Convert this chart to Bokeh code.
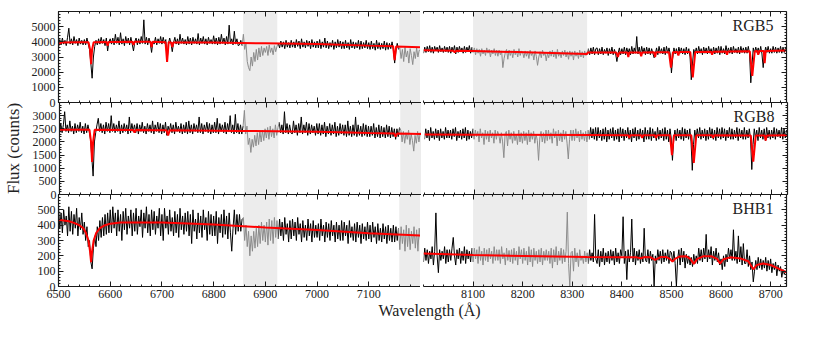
import numpy as np
from bokeh.plotting import figure
from bokeh.layouts import row, column
from bokeh.models import Range1d, LinearAxis, FixedTicker, BoxAnnotation, Label, CustomJSTickFormatter
from bokeh.embed import file_html
from bokeh.resources import INLINE

# ------------------------------------------------------------------ data
star_names = ["RGB5", "RGB8", "BHB1"]
telluric_bands = [(6857, 6923), (7159, 7200), (8100, 8330)]

x_ranges = [(6500, 7200), (8000, 8732)]
y_ranges = [(0, 6000), (0, 3500), (0, 600)]
y_major = [[0, 1000, 2000, 3000, 4000, 5000],
           [0, 500, 1000, 1500, 2000, 2500, 3000],
           [0, 100, 200, 300, 400, 500]]
y_minor_step = [200, 100, 20]
x_major = [[6500, 6600, 6700, 6800, 6900, 7000, 7100],
           [8100, 8200, 8300, 8400, 8500, 8600, 8700]]
x_minor_step = 20

left_start = 6500     # spectra sampled every 2.5 A, one row per 50 A block
right_start = 8000

# RGB5 observed flux (counts)
rgb5_left_blocks = [
    [3650, 4150, 3800, 4250, 3850, 4100, 3750, 4300, 4900, 3850, 4200, 3800, 4350, 3900, 4150, 3750, 4250, 3850, 4100, 3800],
    [4150, 3800, 4250, 3850, 3500, 2600, 1600, 3000, 3700, 4100, 3800, 4200, 3850, 4300, 3900, 4150, 3750, 4250, 3400, 4000],
    [4200, 3850, 4250, 3800, 4500, 3900, 4300, 3800, 4600, 3850, 4200, 3750, 4350, 3900, 4250, 3800, 4300, 3850, 3400, 4000],
    [4250, 3800, 4200, 3850, 4350, 3900, 5450, 3850, 4300, 3800, 4250, 3900, 3300, 4000, 3850, 4300, 3800, 4200, 3900, 4350],
    [3850, 4300, 3900, 4150, 2700, 3850, 4250, 3900, 3350, 3950, 4300, 3850, 4200, 3800, 4500, 3900, 4250, 3850, 4150, 3800],
    [4350, 3850, 4250, 3800, 4300, 3900, 4200, 3850, 4550, 3800, 4250, 3900, 4350, 3850, 4200, 3800, 4300, 3900, 4150, 3850],
    [4400, 3850, 4250, 3800, 4300, 3850, 4500, 3900, 4250, 3800, 4350, 3850, 5100, 3900, 4200, 3800, 4700, 3850, 4200, 3750],
    [3800, 4100, 3750, 4500, 3500, 3900, 2700, 2300, 2100, 3000, 2400, 3300, 2700, 3500, 2800, 3600, 3000, 3700, 3100, 3600],
    [3300, 3700, 3100, 3800, 3300, 3600, 3150, 3750, 3350, 3700, 3900, 3600, 4050, 3650, 4000, 3550, 4100, 3650, 3950, 3600],
    [4100, 3650, 4000, 3600, 4150, 3700, 4050, 3550, 4200, 3650, 4000, 3600, 4100, 3700, 4050, 3550, 4150, 3650, 4000, 3600],
    [4050, 3600, 4150, 3550, 4000, 3650, 4250, 3600, 4050, 3550, 3950, 3650, 4100, 3500, 4000, 3600, 4150, 3650, 4050, 3550],
    [4000, 3550, 4100, 3600, 3950, 3500, 4150, 3600, 4000, 3550, 3950, 3600, 4100, 3500, 4050, 3550, 3950, 3600, 4100, 3550],
    [3950, 3500, 4050, 3550, 3900, 3450, 4100, 3550, 3950, 3500, 3900, 3550, 4050, 3450, 3950, 3500, 3900, 3550, 4000, 3500],
    [2600, 3400, 3900, 3500, 3600, 2900, 3500, 2700, 3650, 3000, 3400, 2600, 3550, 3100, 2500, 3350, 2900, 3600, 3000, 3450],
    [3450],
]
rgb5_right_blocks = [
    [3250, 3650, 3300, 3700, 3350, 3750, 3300, 3650, 3250, 3700, 3400, 3650, 3300, 3750, 3350, 3600, 3300, 3700, 3350, 3650],
    [3300, 3700, 3250, 3650, 3350, 3750, 3200, 3650, 3300, 3700, 3350, 3600, 3250, 3700, 3300, 3650, 3350, 3750, 3250, 3650],
    [3300, 3600, 3150, 3550, 3250, 3500, 3050, 3550, 3200, 3450, 3100, 3600, 3250, 3500, 3000, 3450, 3200, 3550, 3100, 3450],
    [3050, 3450, 3150, 3400, 2300, 2900, 3300, 3500, 2850, 3450, 3100, 3400, 2950, 3500, 3150, 3400, 3000, 3550, 3100, 3400],
    [3300, 2950, 3400, 3050, 3350, 2900, 3450, 3100, 3300, 2800, 3400, 3050, 2450, 3000, 3350, 2950, 3450, 3100, 3300, 2750],
    [3250, 2950, 3400, 3050, 3450, 3000, 3350, 2900, 3500, 3050, 3300, 2950, 3400, 3100, 3450, 3000, 3350, 2850, 3400, 3050],
    [3350, 2800, 3400, 3050, 3300, 2900, 3450, 3000, 3350, 2950, 3400, 3100, 3300, 3550, 3150, 3600, 3200, 3650, 3150, 3550],
    [3600, 3150, 3550, 3200, 3650, 3150, 3500, 3250, 3600, 3100, 3550, 3200, 3650, 3150, 3500, 3200, 2700, 3250, 3600, 3150],
    [3550, 3200, 3650, 3150, 3600, 3250, 3550, 3150, 3700, 3200, 3600, 3250, 4350, 3200, 3650, 3150, 3700, 3250, 3600, 3150],
    [3650, 3200, 3600, 3150, 3550, 3250, 2950, 3200, 3600, 3150, 3700, 3250, 3550, 3200, 3650, 3150, 3700, 3250, 3600, 3200],
    [1950, 2900, 3600, 3200, 3550, 3150, 3650, 3250, 3600, 3200, 3550, 3150, 3650, 3200, 3550, 3000, 1500, 2600, 3500, 3200],
    [3600, 3200, 3700, 3250, 3550, 3150, 3650, 3250, 3600, 3200, 3700, 3250, 3550, 3150, 3650, 3200, 3600, 3250, 3700, 3150],
    [3700, 3250, 3550, 3200, 3750, 3300, 3600, 3250, 3650, 3200, 3700, 3300, 3550, 3250, 3650, 3200, 3700, 3300, 3600, 3250],
    [3650, 3250, 3700, 3200, 1300, 2500, 3600, 3250, 3650, 3300, 3600, 3250, 3700, 3200, 2300, 3250, 3650, 3300, 3700, 3250],
    [3550, 3250, 3700, 3300, 3650, 3250, 3600, 3300, 3700, 3250, 3650, 3300, 3600],
]
rgb5_left_model_wave = [6500, 6505, 6540, 6558, 6561, 6563, 6565, 6568, 6593, 6595, 6597,
                        6643, 6645, 6647, 6678, 6680, 6682, 6707, 6710, 6713, 6718, 6720,
                        6722, 6800, 6900, 7000, 7100, 7147, 7150, 7153, 7200]
rgb5_left_model_flux = [3800, 3950, 3980, 3980, 3500, 2530, 3500, 3980, 3990, 3750, 3990,
                        4000, 3800, 4000, 4000, 3650, 4000, 3980, 2680, 3980, 3960, 3650,
                        3960, 3950, 3900, 3850, 3750, 3710, 2800, 3700, 3640]
rgb5_right_model_wave = [8000, 8060, 8063, 8066, 8100, 8330, 8331, 8389, 8392, 8395, 8411,
                         8413, 8415, 8437, 8439, 8441, 8465, 8467, 8469, 8495, 8499, 8503,
                         8512, 8514, 8516, 8538, 8543, 8548, 8580, 8582, 8584, 8610, 8612,
                         8614, 8658, 8663, 8668, 8673, 8675, 8677, 8686, 8688, 8690, 8732]
rgb5_right_model_flux = [3450, 3420, 3300, 3420, 3400, 3200, 3290, 3300, 3000, 3300, 3300,
                         3000, 3300, 3300, 3050, 3300, 3310, 3000, 3310, 3320, 2300, 3320,
                         3330, 3100, 3330, 3330, 1650, 3330, 3350, 3150, 3350, 3360, 3150,
                         3360, 3380, 1750, 3380, 3390, 3150, 3390, 3400, 2600, 3400, 3430]

# RGB8 observed flux (counts)
rgb8_left_blocks = [
    [2300, 2700, 2350, 2650, 3150, 2400, 2650, 2350, 2800, 2400, 2600, 2300, 2700, 2350, 2650, 2400, 2750, 2350, 2600, 2300],
    [2700, 2350, 2650, 2400, 2100, 1400, 700, 2000, 2350, 2650, 2900, 2400, 2700, 2350, 2650, 2300, 2750, 2400, 2700, 2350],
    [3000, 2400, 2700, 2350, 2650, 2400, 2800, 2300, 2650, 2350, 2700, 2400, 2650, 2300, 2950, 2350, 2700, 2400, 2650, 2350],
    [2700, 2300, 2650, 2400, 2750, 2350, 2600, 2300, 2700, 2400, 2650, 2350, 2800, 2300, 2650, 2400, 2750, 2350, 2700, 2300],
    [2650, 2350, 2750, 2250, 2600, 2400, 2700, 2350, 2650, 2300, 2750, 2400, 2600, 2350, 2700, 2300, 2650, 2350, 2750, 2300],
    [2800, 2350, 2650, 2300, 2700, 2400, 2650, 2350, 2950, 2350, 2700, 2300, 2650, 2400, 2750, 2350, 2700, 2300, 2650, 2350],
    [2750, 2350, 2900, 2300, 2700, 2400, 2650, 2350, 2750, 2300, 2700, 2400, 3000, 2350, 2650, 2300, 3050, 2350, 2700, 2300],
    [2650, 2300, 2600, 3200, 2300, 2600, 1900, 2150, 1600, 2100, 1800, 2250, 1850, 2350, 1900, 2400, 2000, 2450, 2050, 2500],
    [2150, 2550, 2100, 2600, 2200, 2500, 2150, 2650, 2250, 2550, 2750, 2350, 2650, 2300, 3150, 2350, 2700, 2300, 2650, 2350],
    [2300, 2800, 2350, 2650, 2250, 2700, 2350, 2950, 2300, 2650, 2350, 2750, 2250, 2700, 2300, 2650, 2350, 2600, 2250, 2700],
    [2300, 2700, 2250, 2650, 2300, 2750, 2200, 2600, 2300, 2700, 2250, 2650, 2300, 2750, 2200, 2600, 2250, 2700, 2300, 2650],
    [2250, 2650, 2200, 2800, 2250, 2600, 2200, 2650, 2250, 2950, 2200, 2650, 2250, 2600, 2200, 2700, 2250, 2650, 2200, 2600],
    [2200, 2600, 2250, 2700, 2150, 2550, 2200, 2650, 2150, 2600, 2200, 2550, 2150, 2650, 2200, 2600, 2150, 2550, 2200, 2500],
    [2100, 2500, 2200, 2550, 2450, 2000, 2400, 1950, 2350, 2100, 2450, 1900, 2300, 2050, 1650, 2250, 1950, 2400, 2000, 2350],
    [2250],
]
rgb8_right_blocks = [
    [2100, 2500, 2150, 2450, 2050, 2550, 2150, 2400, 2100, 2500, 2150, 2450, 2050, 2500, 2150, 2400, 2100, 2550, 2150, 2450],
    [2150, 2450, 2100, 2500, 2200, 2550, 2050, 2400, 2150, 2450, 2100, 2500, 2150, 2550, 2050, 2450, 2100, 2400, 2150, 2500],
    [2100, 2450, 2200, 2400, 2000, 2500, 2150, 2350, 1900, 2450, 2100, 2400, 2000, 2450, 2150, 2350, 1950, 2450, 2100, 2400],
    [2250, 1950, 2350, 2000, 1400, 2300, 2400, 1850, 2450, 2100, 2350, 1950, 2400, 2050, 2300, 1900, 2450, 2000, 2350, 1950],
    [2400, 2050, 2350, 1900, 2450, 2000, 2350, 2100, 2400, 1950, 2300, 2050, 1300, 2150, 2400, 2000, 2350, 1950, 2450, 2050],
    [2450, 2100, 2350, 1950, 2500, 2150, 2400, 1850, 2450, 2050, 2350, 2000, 2450, 2100, 2400, 1950, 1350, 2100, 2450, 2050],
    [2450, 2050, 2500, 2150, 2400, 2000, 2450, 2100, 2350, 2050, 2400, 2000, 2450, 2100, 2550, 2150, 2500, 2100, 2550, 2050],
    [2550, 2150, 2450, 2050, 2500, 2100, 2550, 2000, 2450, 2100, 2500, 2150, 2550, 2050, 2450, 2100, 2500, 2000, 2550, 2150],
    [2500, 2050, 2450, 2150, 2550, 2100, 2450, 2000, 2500, 2150, 2550, 2050, 2450, 2100, 2500, 2150, 2450, 2000, 2550, 2100],
    [2450, 2100, 2550, 2050, 2500, 2150, 2400, 2050, 2550, 2100, 2450, 2150, 2500, 2050, 2550, 2100, 2450, 2000, 2500, 2150],
    [1300, 2100, 2450, 2050, 2500, 2150, 2450, 2100, 2550, 2050, 2500, 2150, 2450, 2100, 2500, 2000, 920, 1900, 2450, 2100],
    [2500, 2150, 2550, 2100, 2450, 2150, 2500, 2050, 2450, 2100, 2550, 2150, 2500, 2100, 2450, 2050, 2550, 2150, 2500, 2100],
    [2550, 2150, 2500, 2050, 2450, 2150, 2550, 2100, 2500, 2100, 2450, 2150, 2550, 2050, 2500, 2150, 2450, 2100, 2550, 2100],
    [2450, 2150, 2500, 2100, 950, 1900, 2500, 2150, 2450, 2050, 2550, 2150, 2450, 2100, 2500, 2050, 2550, 2150, 2450, 2100],
    [2450, 2150, 2550, 2100, 2500, 2200, 2450, 2150, 2550, 2100, 2500, 2150, 2450],
]
rgb8_left_model_wave = [6500, 6558, 6561, 6563, 6565, 6568, 6643, 6645, 6647, 6707, 6710,
                        6713, 6850, 7000, 7100, 7147, 7150, 7153, 7200]
rgb8_left_model_flux = [2460, 2460, 2000, 1240, 2000, 2460, 2450, 2350, 2450, 2440, 2250,
                        2440, 2420, 2390, 2340, 2320, 2200, 2320, 2300]
rgb8_right_model_wave = [8000, 8100, 8330, 8411, 8413, 8415, 8437, 8439, 8441, 8465, 8467,
                         8469, 8495, 8499, 8503, 8538, 8543, 8548, 8580, 8582, 8584, 8658,
                         8663, 8668, 8686, 8688, 8690, 8732]
rgb8_right_model_flux = [2280, 2275, 2260, 2255, 2150, 2255, 2255, 2150, 2255, 2255, 2150,
                         2255, 2255, 1500, 2255, 2250, 1200, 2250, 2250, 2150, 2250, 2240,
                         1250, 2240, 2240, 2050, 2240, 2250]

# BHB1 observed flux (counts)
bhb1_left_blocks = [
    [520, 380, 480, 350, 500, 400, 460, 330, 520, 360, 490, 340, 470, 380, 510, 330, 450, 370, 480, 340],
    [420, 300, 390, 260, 300, 160, 115, 250, 330, 260, 390, 300, 430, 320, 450, 330, 470, 340, 480, 350],
    [500, 350, 520, 380, 480, 330, 500, 360, 470, 300, 490, 370, 510, 340, 460, 380, 500, 330, 480, 360],
    [510, 340, 460, 390, 500, 320, 480, 380, 520, 350, 470, 330, 500, 370, 490, 340, 460, 380, 510, 330],
    [470, 300, 510, 380, 460, 340, 500, 360, 450, 330, 490, 350, 470, 320, 510, 370, 460, 340, 480, 360],
    [490, 330, 470, 280, 500, 360, 440, 310, 480, 350, 460, 320, 500, 370, 450, 300, 490, 340, 470, 330],
    [460, 330, 490, 280, 450, 350, 470, 320, 500, 340, 460, 310, 480, 350, 230, 380, 500, 340, 470, 360],
    [470, 360, 440, 450, 300, 400, 260, 360, 200, 330, 230, 360, 250, 380, 260, 400, 280, 420, 300, 400],
    [290, 420, 270, 440, 300, 430, 280, 450, 320, 430, 310, 440, 330, 420, 300, 450, 340, 410, 290, 430],
    [310, 440, 330, 420, 300, 450, 340, 410, 290, 430, 320, 400, 300, 440, 330, 410, 290, 430, 320, 400],
    [320, 410, 300, 440, 330, 400, 290, 420, 320, 410, 300, 430, 330, 400, 290, 420, 310, 400, 300, 430],
    [300, 420, 330, 400, 280, 430, 320, 390, 300, 410, 290, 420, 320, 400, 280, 410, 310, 390, 300, 420],
    [310, 400, 290, 420, 320, 390, 280, 410, 300, 380, 290, 410, 310, 390, 280, 400, 300, 380, 290, 400],
    [290, 390, 300, 380, 240, 390, 280, 370, 230, 400, 260, 380, 240, 360, 280, 390, 250, 370, 230, 380],
    [300],
]
bhb1_right_blocks = [
    [160, 250, 170, 240, 150, 230, 180, 260, 140, 230, 480, 200, 90, 240, 170, 230, 180, 260, 150, 240],
    [160, 240, 170, 250, 320, 200, 140, 240, 180, 250, 150, 230, 170, 260, 150, 240, 180, 230, 160, 250],
    [160, 250, 180, 240, 150, 260, 170, 230, 140, 250, 170, 240, 160, 250, 180, 230, 150, 260, 170, 240],
    [170, 240, 150, 260, 180, 220, 140, 250, 170, 235, 160, 240, 150, 250, 170, 230, 140, 260, 180, 240],
    [150, 250, 170, 230, 140, 260, 160, 240, 130, 250, 170, 230, 150, 240, 160, 250, 140, 230, 170, 240],
    [170, 230, 150, 250, 120, 240, 160, 260, 140, 230, 170, 250, 150, 240, 160, 230, 485, 150, 0, 220],
    [230, 100, 250, 160, 220, 130, 240, 170, 200, 150, 230, 160, 220, 150, 240, 170, 220, 160, 470, 180],
    [150, 240, 130, 230, 160, 250, 140, 220, 160, 230, 150, 240, 170, 230, 140, 250, 160, 220, 150, 240],
    [200, 455, 150, 230, 45, 240, 160, 220, 440, 160, 250, 140, 230, 170, 240, 150, 220, 160, 380, 170],
    [160, 240, 150, 230, 170, 210, 0, 200, 150, 240, 170, 230, 150, 240, 160, 220, 170, 240, 150, 230],
    [220, 160, 230, 150, 0, 180, 240, 140, 250, 160, 230, 120, 210, 150, 200, 140, 190, 130, 210, 150],
    [200, 150, 250, 170, 240, 160, 250, 180, 340, 160, 240, 180, 260, 140, 230, 170, 250, 160, 220, 140],
    [180, 110, 200, 130, 210, 160, 250, 180, 240, 170, 370, 170, 230, 150, 330, 160, 260, 140, 280, 150],
    [150, 240, 130, 200, 110, 160, 30, 100, 170, 110, 190, 120, 180, 110, 170, 120, 190, 100, 170, 110],
    [180, 90, 150, 110, 160, 70, 140, 100, 130, 60, 110, 80, 100],
]
bhb1_left_model_wave = [6500, 6510, 6520, 6530, 6540, 6548, 6553, 6558, 6561, 6563, 6565,
                        6568, 6573, 6580, 6590, 6600, 6620, 6700, 6800, 6900, 7000, 7100, 7200]
bhb1_left_model_flux = [435, 430, 425, 415, 400, 380, 350, 300, 230, 158, 230,
                        300, 350, 380, 400, 410, 418, 418, 405, 385, 368, 348, 333]
bhb1_right_model_wave = [8000, 8100, 8330, 8400, 8430, 8438, 8446, 8458, 8467, 8478, 8490,
                         8497, 8502, 8507, 8516, 8530, 8538, 8545, 8552, 8565, 8580, 8592,
                         8598, 8605, 8618, 8640, 8655, 8665, 8672, 8685, 8700, 8715, 8732]
bhb1_right_model_flux = [215, 205, 192, 190, 190, 184, 192, 190, 174, 192, 192,
                         180, 162, 180, 195, 197, 180, 148, 180, 198, 198, 180,
                         150, 178, 190, 182, 165, 112, 140, 150, 140, 118, 93]

panels = [
    [(rgb5_left_blocks, rgb5_left_model_wave, rgb5_left_model_flux),
     (rgb5_right_blocks, rgb5_right_model_wave, rgb5_right_model_flux)],
    [(rgb8_left_blocks, rgb8_left_model_wave, rgb8_left_model_flux),
     (rgb8_right_blocks, rgb8_right_model_wave, rgb8_right_model_flux)],
    [(bhb1_left_blocks, bhb1_left_model_wave, bhb1_left_model_flux),
     (bhb1_right_blocks, bhb1_right_model_wave, bhb1_right_model_flux)],
]
starts = [left_start, right_start]

# ------------------------------------------------------------------ style
SERIF = "Liberation Serif"
FRAME_W = [362, 363]
FRAME_H = [91, 92, 92]
INK = "#1a1a1a"
PAD = 7          # transparent strip shared by neighbouring rows


def expand(start, blocks):
    w, f = [], []
    for k, blk in enumerate(blocks):
        for i, v in enumerate(blk):
            w.append(start + 50 * k + 2.5 * i)
            f.append(v)
    return np.array(w, float), np.array(f, float)


def add_axis(p, side, ticks, minor, labels):
    ax = LinearAxis(ticker=FixedTicker(ticks=ticks, minor_ticks=minor))
    ax.axis_line_color = INK
    ax.axis_line_width = 1.2
    ax.major_tick_line_color = INK
    ax.minor_tick_line_color = INK
    ax.major_tick_in = 5
    ax.major_tick_out = 0
    ax.minor_tick_in = 2
    ax.minor_tick_out = 0
    if labels:
        ax.major_label_text_font = SERIF
        ax.major_label_text_font_size = "12px"
        ax.major_label_text_color = "#222222"
        ax.major_label_standoff = 3
    else:
        ax.formatter = CustomJSTickFormatter(code="return ''")
        ax.major_label_text_font_size = "1px"
        ax.major_label_standoff = 0
    p.add_layout(ax, side)
    return ax


rows = []
for r in range(3):
    row_figs = []
    for c in range(2):
        x0, x1 = x_ranges[c]
        y0, y1 = y_ranges[r]
        p = figure(frame_width=FRAME_W[c], frame_height=FRAME_H[r],
                   x_range=Range1d(x0, x1), y_range=Range1d(y0, y1),
                   x_axis_location=None, y_axis_location=None,
                   output_backend="svg", toolbar_location=None,
                   min_border_left=58 if c == 0 else 3,
                   min_border_right=0 if c == 0 else 10,
                   min_border_top=11 if r == 0 else PAD,
                   min_border_bottom=15 if r == 2 else PAD)
        p.outline_line_color = None
        p.grid.visible = False
        p.background_fill_color = None
        p.border_fill_color = None

        for lo, hi in telluric_bands:
            if hi > x0 and lo < x1:
                p.add_layout(BoxAnnotation(left=max(lo, x0), right=min(hi, x1),
                                           fill_color="#ececec", fill_alpha=1.0,
                                           line_alpha=0, level="underlay"))

        blocks, mw, mf = panels[r][c]
        w, f = expand(starts[c], blocks)
        inband = np.zeros(len(w), bool)
        for lo, hi in telluric_bands:
            inband |= (w >= lo) & (w <= hi)
        ext = inband.copy()
        ext[1:] |= inband[:-1]
        ext[:-1] |= inband[1:]
        f_black = np.where(inband, np.nan, f)
        f_gray = np.where(ext, f, np.nan)
        p.line(w, f_black, line_color="black", line_width=1.0)
        p.line(w, f_gray, line_color="#8c8c8c", line_width=1.0)
        p.line(mw, mf, line_color="#ff0000", line_width=2.0)

        ymin = list(range(y0, y1 + 1, y_minor_step[r]))
        xmin = list(range(x0, x1 + 1, x_minor_step))
        add_axis(p, "below", x_major[c], xmin, labels=(r == 2))
        add_axis(p, "above", x_major[c], xmin, labels=False)
        if c == 0:
            yax = add_axis(p, "left", y_major[r], ymin, labels=True)
            if r == 1:
                yax.axis_label = "Flux (counts)"
                yax.axis_label_text_font = SERIF
                yax.axis_label_text_font_size = "17px"
                yax.axis_label_text_font_style = "normal"
                yax.axis_label_text_color = "#222222"
                yax.axis_label_standoff = 7
        else:
            add_axis(p, "right", y_major[r], ymin, labels=False)
            sx = FRAME_W[c] / (x1 - x0)
            sy = FRAME_H[r] / (y1 - y0)
            p.add_layout(Label(x=x1 - 13 / sx, y=y1 - 5 / sy, text=star_names[r],
                               text_align="right", text_baseline="top",
                               text_font=SERIF, text_font_size="16px",
                               text_color="#222222"))
        row_figs.append(p)
    rw = row(*row_figs)
    if r > 0:
        rw.margin = (-2 * PAD, 0, 0, 0)
    rows.append(rw)

lab = figure(width=797, height=26, x_range=Range1d(0, 797), y_range=Range1d(0, 26),
             x_axis_location=None, y_axis_location=None, min_border=0,
             output_backend="svg", toolbar_location=None)
lab.outline_line_color = None
lab.grid.visible = False
lab.background_fill_color = None
lab.border_fill_color = None
lab.add_layout(Label(x=429, y=26, text="Wavelength (Å)", text_align="center",
                     text_baseline="top", text_font=SERIF, text_font_size="16px",
                     text_color="#222222"))

page = column(*rows, lab)
open("out.html", "w").write(file_html(page, INLINE))
